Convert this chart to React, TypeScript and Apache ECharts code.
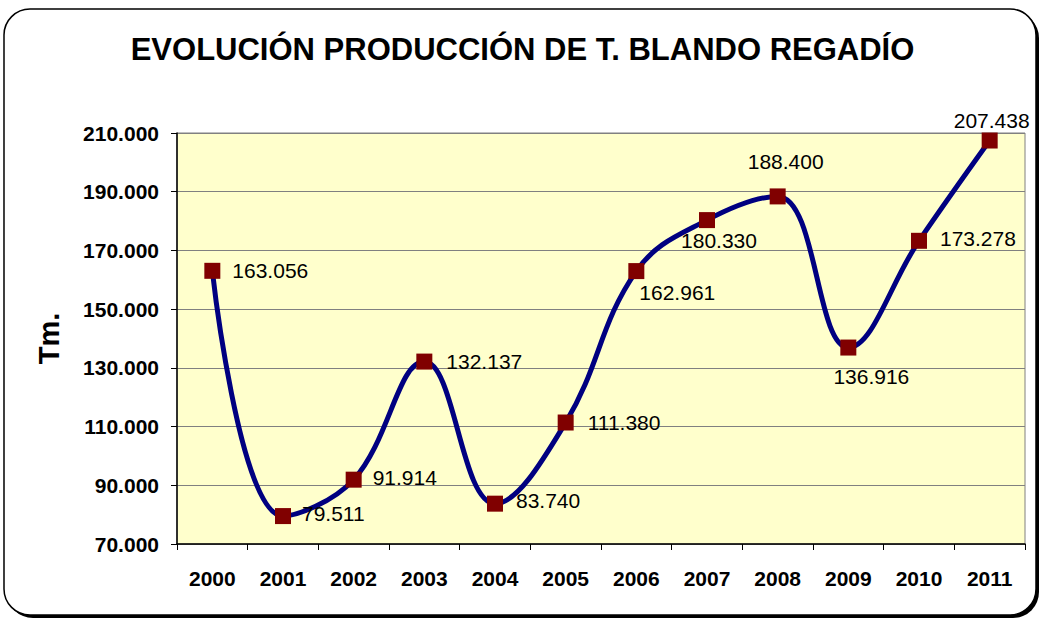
import React, { useEffect, useRef } from "react";
import * as echarts from "echarts";

const TITLE = "EVOLUCIÓN PRODUCCIÓN DE T. BLANDO REGADÍO";
const Y_NAME = "Tm.";
const years = ["2000", "2001", "2002", "2003", "2004", "2005", "2006", "2007", "2008", "2009", "2010", "2011"];
const production = [163056, 79511, 91914, 132137, 83740, 111380, 162961, 180330, 188400, 136916, 173278, 207438];
const Y_MIN = 70000;
const Y_MAX = 210000;
const Y_STEP = 20000;

// label placement per point: [position, offsetX, offsetY]
const labelPlacement: [string, number, number][] = [
  ["right", 7, 0],
  ["right", 6, -3],
  ["right", 6, -2],
  ["right", 9, 0],
  ["right", 8, -3],
  ["right", 9, 0],
  ["right", -10, 21],
  ["bottom", 12, -3],
  ["top", 8, -11],
  ["bottom", 23, 5],
  ["right", 8, -2],
  ["top", 2, 3],
];

const fmt = (v: number) => String(Math.round(v)).replace(/\B(?=(\d{3})+(?!\d))/g, ".");

export default function App() {
  const ref = useRef<HTMLDivElement>(null);
  useEffect(() => {
    if (!ref.current) return;
    const chart = echarts.init(ref.current, undefined, { renderer: "svg" });
    const font = "Liberation Sans, Arial, sans-serif";
    chart.setOption({
      animation: false,
      backgroundColor: "#ffffff",
      graphic: {
        elements: [
          {
            type: "rect",
            z: -20,
            shape: { x: 7, y: 12, width: 1032, height: 606, r: 26 },
            style: { fill: "#000000" },
            silent: true,
          },
          {
            type: "rect",
            z: -10,
            shape: { x: 4, y: 9, width: 1032, height: 606, r: 26 },
            style: { fill: "#ffffff", stroke: "#000000", lineWidth: 1.5 },
            silent: true,
          },
        ],
      },
      title: {
        text: TITLE,
        left: "center",
        top: 34,
        padding: 0,
        textStyle: { fontFamily: font, fontSize: 31, fontWeight: "bold", color: "#000000" },
      },
      grid: {
        left: 177,
        right: 20,
        top: 133,
        bottom: 79,
        show: true,
        backgroundColor: "#FFFFCC",
        borderColor: "#808080",
        borderWidth: 1,
        containLabel: false,
      },
      xAxis: {
        type: "category",
        data: years,
        boundaryGap: true,
        axisLine: { lineStyle: { color: "#000000", width: 1.5 } },
        axisTick: { show: true, length: 6, lineStyle: { color: "#000000", width: 1 } },
        axisLabel: {
          margin: 24,
          fontFamily: font,
          fontSize: 21,
          fontWeight: "bold",
          color: "#000000",
        },
        splitLine: { show: false },
      },
      yAxis: {
        type: "value",
        min: Y_MIN,
        max: Y_MAX,
        interval: Y_STEP,
        name: Y_NAME,
        nameLocation: "middle",
        nameRotate: 90,
        nameGap: 114,
        nameTextStyle: { fontFamily: font, fontSize: 29, fontWeight: "bold", color: "#000000" },
        axisLine: { show: true, lineStyle: { color: "#000000", width: 1.5 } },
        axisTick: { show: true, length: 6, lineStyle: { color: "#000000", width: 1 } },
        axisLabel: {
          margin: 18,
          fontFamily: font,
          fontSize: 21,
          fontWeight: "bold",
          color: "#000000",
          formatter: (v: number) => fmt(v),
        },
        splitLine: { show: true, lineStyle: { color: "#808080", width: 1 } },
      },
      series: [
        {
          type: "line",
          smooth: 0.4,
          data: production.map((v, i) => ({
            value: v,
            label: {
              position: labelPlacement[i][0],
              offset: [labelPlacement[i][1], labelPlacement[i][2]],
            },
          })),
          lineStyle: { color: "#000080", width: 5 },
          itemStyle: { color: "#800000", borderWidth: 0 },
          symbol: "rect",
          symbolSize: 16,
          showSymbol: true,
          label: {
            show: true,
            fontFamily: font,
            fontSize: 21,
            color: "#000000",
            distance: 5,
            formatter: (p: any) => fmt(p.value),
          },
          z: 3,
        },
      ],
    });
    return () => chart.dispose();
  }, []);
  return (
    <div
      ref={ref}
      style={{ position: "fixed", left: 0, top: 0, width: 1045, height: 623 }}
    />
  );
}
